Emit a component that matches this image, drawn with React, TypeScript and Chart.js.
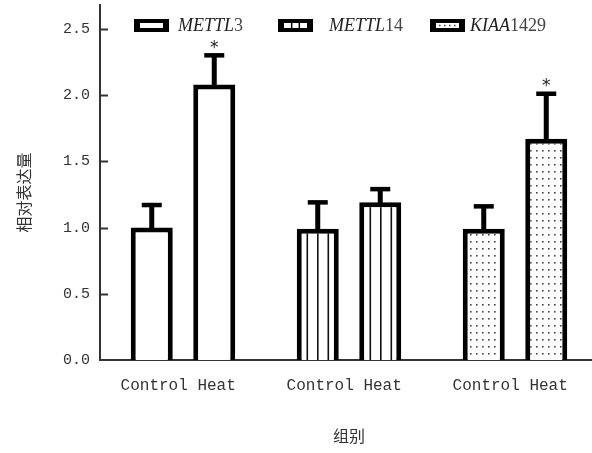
import React, { useEffect, useRef } from "react";
import { Chart, registerables } from "chart.js";

Chart.register(...registerables);

// ---- data ----
const genes = ["METTL3", "METTL14", "KIAA1429"];
const conditions = ["Control", "Heat"];
const controlMeans = [1.0, 0.99, 0.99];
const controlErrors = [0.17, 0.2, 0.17];
const heatMeans = [2.08, 1.19, 1.67];
const heatErrors = [0.22, 0.1, 0.34];
const heatSignificant = [true, false, true];
const yTickValues = [0, 0.5, 1.0, 1.5, 2.0, 2.5];
const yMax = 2.68;
const yTitle = "相对表达量";
const xTitle = "组别";

// ---- layout / style ----
const legendBoxX = [134, 278, 430];
const legendTextX = [178, 329, 470];
const MONO = "'Liberation Mono', monospace";
const SERIF = "'Liberation Serif', serif";
const CJK = "'Noto Sans CJK SC', sans-serif";

function makeStripe(): CanvasPattern | string {
  const c = document.createElement("canvas");
  c.width = 21;
  c.height = 10;
  const g = c.getContext("2d");
  if (!g) return "#fff";
  g.fillStyle = "#fff";
  g.fillRect(0, 0, 21, 10);
  g.fillStyle = "#111";
  g.fillRect(2, 0, 1.6, 10);
  g.fillRect(12.5, 0, 1.6, 10);
  return g.createPattern(c, "repeat") || "#fff";
}

function makeDots(): CanvasPattern | string {
  const c = document.createElement("canvas");
  c.width = 6;
  c.height = 7;
  const g = c.getContext("2d");
  if (!g) return "#fff";
  g.fillStyle = "#fff";
  g.fillRect(0, 0, 6, 7);
  g.fillStyle = "#444";
  g.fillRect(2, 3, 1.6, 1.6);
  return g.createPattern(c, "repeat") || "#fff";
}

export default function App() {
  const ref = useRef<HTMLCanvasElement | null>(null);

  useEffect(() => {
    document.body.style.margin = "0";
    document.body.style.overflow = "hidden";
    const canvas = ref.current;
    if (!canvas) return;
    const fills = ["#ffffff", makeStripe(), makeDots()];

    const overlay = {
      id: "overlay",
      afterDatasetsDraw(chart: any) {
        const ctx = chart.ctx;
        const yS = chart.scales.y;
        const area = chart.chartArea;
        const means = [controlMeans, heatMeans];
        const errs = [controlErrors, heatErrors];
        ctx.save();
        ctx.fillStyle = "#000";
        for (let d = 0; d < 2; d++) {
          const meta = chart.getDatasetMeta(d);
          meta.data.forEach((bar: any, i: number) => {
            const top = yS.getPixelForValue(means[d][i] + errs[d][i]);
            ctx.fillRect(bar.x - 2.5, top, 5, bar.y - top + 2);
            ctx.fillRect(bar.x - 10, top - 2.25, 20, 4.5);
            if (d === 1 && heatSignificant[i]) {
              ctx.font = "17px 'DejaVu Sans'";
              ctx.textAlign = "center";
              ctx.textBaseline = "alphabetic";
              const m = ctx.measureText("*");
              const asc = m.actualBoundingBoxAscent;
              const desc = m.actualBoundingBoxDescent;
              const cy = top - 11;
              ctx.fillStyle = "#222";
              ctx.fillText("*", bar.x, cy + (asc - desc) / 2);
              ctx.fillStyle = "#000";
            }
          });
        }
        // inward y ticks
        ctx.strokeStyle = "#333";
        ctx.lineWidth = 2;
        yTickValues.forEach((v) => {
          if (v === 0) return;
          const py = Math.round(yS.getPixelForValue(v)) + 0.5;
          ctx.beginPath();
          ctx.moveTo(area.left, py);
          ctx.lineTo(area.left + 8, py);
          ctx.stroke();
        });
        // y title
        ctx.save();
        ctx.translate(24, (area.top + area.bottom) / 2 + 10);
        ctx.rotate(-Math.PI / 2);
        ctx.font = "16px " + CJK;
        ctx.fillStyle = "#333";
        ctx.textAlign = "center";
        ctx.textBaseline = "middle";
        ctx.fillText(yTitle, 0, 0);
        ctx.restore();
        // legend
        genes.forEach((gName, i) => {
          const bx = legendBoxX[i];
          const by = 19;
          const bw = 35;
          const bh = 13;
          ctx.fillStyle = "#000";
          ctx.fillRect(bx, by, bw, bh);
          ctx.fillStyle = "#fff";
          const ix = bx + 6;
          const iy = by + 4;
          const iw = bw - 12;
          const ih = bh - 8;
          ctx.fillRect(ix, iy, iw, ih);
          if (i === 1) {
            ctx.fillStyle = "#000";
            ctx.fillRect(ix + iw / 3 - 0.75, iy, 1.5, ih);
            ctx.fillRect(ix + (2 * iw) / 3 - 0.75, iy, 1.5, ih);
          } else if (i === 2) {
            ctx.fillStyle = "#444";
            for (let k = 0; k < 4; k++) {
              ctx.fillRect(ix + 3 + k * 5, iy + ih / 2 - 0.75, 1.5, 1.5);
            }
          }
          const match = gName.match(/^([A-Z]+)(\d+)$/);
          const italicPart = match ? match[1] : gName;
          const digitPart = match ? match[2] : "";
          ctx.fillStyle = "#222";
          ctx.textAlign = "left";
          ctx.textBaseline = "alphabetic";
          ctx.font = "italic 18px " + SERIF;
          ctx.fillText(italicPart, legendTextX[i], 31);
          const w = ctx.measureText(italicPart).width;
          ctx.font = "18px " + SERIF;
          ctx.fillStyle = "#444";
          ctx.fillText(digitPart, legendTextX[i] + w, 31);
        });
        ctx.restore();
      },
    };

    const chart = new Chart(canvas, {
      type: "bar",
      data: {
        labels: genes,
        datasets: [
          {
            label: conditions[0],
            data: controlMeans,
            backgroundColor: fills as any,
            borderColor: "#000",
            borderWidth: 5,
            categoryPercentage: 0.753,
            barPercentage: 0.672,
          },
          {
            label: conditions[1],
            data: heatMeans,
            backgroundColor: fills as any,
            borderColor: "#000",
            borderWidth: 5,
            categoryPercentage: 0.753,
            barPercentage: 0.672,
          },
        ],
      },
      options: {
        responsive: false,
        animation: false,
        events: [],
        layout: { padding: { top: 5, right: 2, bottom: 7.6, left: 0 } },
        plugins: {
          legend: { display: false },
          tooltip: { enabled: false },
        },
        scales: {
          x: {
            type: "category",
            grid: { display: false, drawTicks: false },
            border: { display: true, color: "#333", width: 2 },
            ticks: {
              padding: 16,
              color: "#333",
              font: { family: MONO, size: 16 },
              callback: () => conditions.join(" ") + " ",
            },
            title: {
              display: true,
              text: xTitle,
              color: "#333",
              font: { family: CJK, size: 16 },
              padding: { top: 15, bottom: 0 },
            },
          },
          y: {
            min: 0,
            max: yMax,
            grid: { display: false, drawTicks: false },
            border: { display: true, color: "#333", width: 2 },
            afterBuildTicks: (s: any) => {
              s.ticks = yTickValues.map((v) => ({ value: v }));
            },
            afterFit: (s: any) => {
              s.width = 100;
              s.paddingTop = 0;
              s.paddingBottom = 0;
            },
            ticks: {
              padding: 10,
              color: "#333",
              font: { family: MONO, size: 15 },
              callback: (v: any) => Number(v).toFixed(1),
            },
          },
        },
      },
      plugins: [overlay],
    });
    return () => chart.destroy();
  }, []);

  return (
    <div style={{ width: 592, height: 453, overflow: "hidden", background: "#fff" }}>
      <canvas ref={ref} width={600} height={453} style={{ width: 600, height: 453, display: "block" }} />
    </div>
  );
}
